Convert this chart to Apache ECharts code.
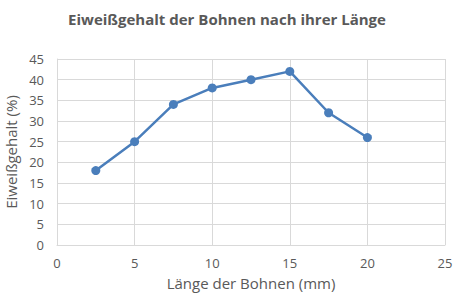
<!DOCTYPE html>
<html>
<head>
<meta charset="utf-8">
<script src="https://cdn.jsdelivr.net/npm/echarts@6/dist/echarts.min.js"></script>
<style>
  html, body { margin: 0; padding: 0; background: #fff; }
  #chart { width: 454px; height: 296px; }
</style>
</head>
<body>
<div id="chart"></div>
<script>
const lengths = [2.5, 5, 7.5, 10, 12.5, 15, 17.5, 20];
const protein = [18, 25, 34, 38, 40, 42, 32, 26];
const titleText = 'Eiweißgehalt der Bohnen nach ihrer Länge';
const xName = 'Länge der Bohnen (mm)';
const yName = 'Eiweißgehalt (%)';

const font = '"Open Sans", Lato, sans-serif';
const grey = '#595959';

const chart = echarts.init(document.getElementById('chart'), null, { renderer: 'svg' });

chart.setOption({
  animation: false,
  title: {
    text: titleText,
    left: 'center',
    top: 6,
    textStyle: { fontFamily: font, fontSize: 15, fontWeight: 'bold', color: grey }
  },
  grid: { left: 57, right: 9, top: 59, bottom: 51, outerBoundsMode: 'none', containLabel: false },
  xAxis: {
    type: 'value',
    min: 0, max: 25, interval: 5,
    name: xName,
    nameLocation: 'middle',
    nameGap: 30,
    nameTextStyle: { fontFamily: font, fontSize: 15, color: grey },
    axisLine: { show: true, lineStyle: { color: '#d9d9d9' } },
    axisTick: { show: false },
    axisLabel: { fontFamily: font, fontSize: 13, color: grey, margin: 11 },
    splitLine: { show: true, lineStyle: { color: '#d9d9d9' } }
  },
  yAxis: {
    type: 'value',
    min: 0, max: 45, interval: 5,
    name: yName,
    nameLocation: 'middle',
    nameGap: 33,
    nameTextStyle: { fontFamily: font, fontSize: 15, color: grey },
    axisLine: { show: true, lineStyle: { color: '#d9d9d9' } },
    axisTick: { show: false },
    axisLabel: { fontFamily: font, fontSize: 13, color: grey, margin: 13 },
    splitLine: { show: true, lineStyle: { color: '#d9d9d9' } }
  },
  series: [{
    type: 'line',
    data: lengths.map((x, i) => [x, protein[i]]),
    symbol: 'circle',
    symbolSize: 9,
    lineStyle: { color: '#4A7EBB', width: 2.5 },
    itemStyle: { color: '#4A7EBB' }
  }]
});
</script>
</body>
</html>
